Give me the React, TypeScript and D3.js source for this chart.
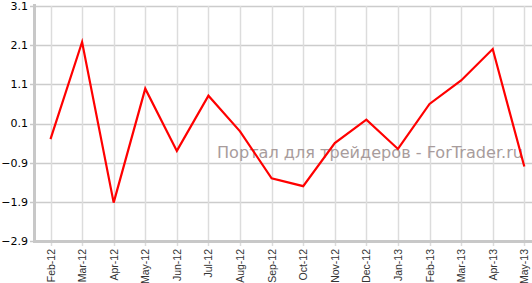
import React from "react";
import * as d3 from "d3";

const categories = ["Feb-12","Mar-12","Apr-12","May-12","Jun-12","Jul-12","Aug-12","Sep-12","Oct-12","Nov-12","Dec-12","Jan-13","Feb-13","Mar-13","Apr-13","May-13"];
const values = [-0.3, 2.18, -1.92, 0.99, -0.6, 0.81, -0.1, -1.3, -1.5, -0.4, 0.2, -0.55, 0.6, 1.2, 2.0, -1.0];
const yTicks = [3.1, 2.1, 1.1, 0.1, -0.9, -1.9, -2.9];
const watermark = "Портал для трейдеров - ForTrader.ru";

const W = 532, H = 283;

export default function App() {
  const x = d3.scalePoint<string>().domain(categories).range([50.5, 524.3]);
  const y = d3.scaleLinear().domain([-2.9, 3.1]).range([241, 6]);
  const line = d3.line<number>().x((_, i) => x(categories[i])!).y(d => y(d));
  const axisColor = "#c8c8c8";
  return (
    <svg width={W} height={H} style={{ position: "absolute", left: 0, top: 0, background: "#fff" }}>
      {yTicks.map(t => (
        <line key={"h" + t} x1={34} x2={W} y1={Math.round(y(t)) + 0.5} y2={Math.round(y(t)) + 0.5} stroke="#cccccc" strokeWidth={1.5} />
      ))}
      {categories.map(c => (
        <line key={"v" + c} x1={Math.round(x(c)!) + 0.5} x2={Math.round(x(c)!) + 0.5} y1={y(3.1)} y2={y(-2.9) + 5} stroke="#dcdcdc" strokeWidth={1.5} />
      ))}
      {yTicks.map(t => (
        <line key={"t" + t} x1={30} x2={34} y1={Math.round(y(t)) + 0.5} y2={Math.round(y(t)) + 0.5} stroke={axisColor} strokeWidth={1.5} />
      ))}
      <line x1={34.5} x2={34.5} y1={y(3.1) - 2} y2={y(-2.9) + 2} stroke={axisColor} strokeWidth={3} />
      <line x1={33} x2={W} y1={y(-2.9) + 0.5} y2={y(-2.9) + 0.5} stroke={axisColor} strokeWidth={3} />
      {yTicks.map(t => (
        <text key={"l" + t} x={28} y={y(t)} dy="0.35em" textAnchor="end" fontFamily="DejaVu Sans, Verdana" fontSize={11} fill="#000">{d3.format(".1f")(t)}</text>
      ))}
      {categories.map(c => (
        <text key={"x" + c} transform={`translate(${x(c)! + 4},${y(-2.9) + 8}) rotate(-90)`} textAnchor="end" fontFamily="Liberation Sans, Arial" fontSize={10.5} fill="#333">{c}</text>
      ))}
      <text x={217} y={158} fontFamily="DejaVu Sans, Verdana" fontSize={16} textLength={306} lengthAdjust="spacingAndGlyphs" fill="#a89c9c">{watermark}</text>
      <path d={line(values)!} fill="none" stroke="#ff0000" strokeWidth={2.2} strokeLinejoin="miter" />
    </svg>
  );
}
